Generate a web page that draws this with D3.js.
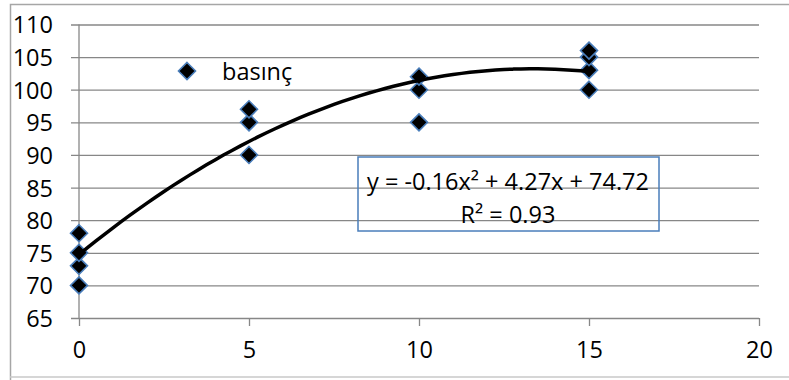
<!DOCTYPE html>
<html>
<head>
<meta charset="utf-8">
<script src="https://cdn.jsdelivr.net/npm/d3@7"></script>
<style>
  body { margin: 0; background: #fff; }
  text { font-family: "Open Sans", sans-serif; fill: #000; }
</style>
</head>
<body>
<div id="chart"></div>
<script>
// measured points (x, basinç)
var xValues = [0, 0, 0, 0, 5, 5, 5, 10, 10, 10, 15, 15, 15, 15];
var yValues = [70, 73, 75, 78, 90, 95, 97, 95, 100, 102, 100, 103, 105, 106];
var xTicks = [0, 5, 10, 15, 20];
var yTicks = [65, 70, 75, 80, 85, 90, 95, 100, 105, 110];
var seriesName = "basınç";
// polynomial trendline, order 2: a*x^2 + b*x + c
var trendCoef = [-0.16, 4.27, 74.72];
var trendLabel = "y = -0.16x² + 4.27x + 74.72";
var r2Label = "R² = 0.93";

function init() {
    var w = 789;
    var h = 380;
    var left = 79, right = 759, top = 24.5, bottom = 318;
    var fs = "23.5px";

    var svg = d3.select("#chart")
        .append("svg")
        .attr("width", w)
        .attr("height", h);

    // outer chart border
    svg.append("path")
        .attr("d", "M10.5,380 V4.5 H789")
        .attr("fill", "none")
        .attr("stroke", "#a6a6a6")
        .attr("stroke-width", 1.5);
    svg.append("line")
        .attr("x1", 10).attr("x2", 789)
        .attr("y1", 377).attr("y2", 377)
        .attr("stroke", "#c8c8c8")
        .attr("stroke-width", 1.5);

    var x = d3.scaleLinear().domain([0, 20]).range([left, right]);
    var y = d3.scaleLinear().domain([65, 110]).range([bottom, top]);

    var data = xValues.map(function (d, i) { return [d, yValues[i]]; });

    // gridlines + y axis
    var yAxis = d3.axisLeft(y)
        .tickValues(yTicks)
        .tickSize(-(right - left) - 8)
        .tickPadding(18)
        .tickSizeOuter(0);
    var gy = svg.append("g")
        .attr("transform", "translate(" + (left - 8) + ",0)")
        .call(yAxis);
    gy.select(".domain").remove();
    gy.selectAll(".tick line")
        .attr("stroke", "#878787")
        .attr("stroke-width", 1.3);
    gy.selectAll(".tick text")
        .attr("x", -(left - 8 - 53))
        .attr("dy", "0.36em")
        .style("font-size", fs)
        .style("font-family", "'Open Sans', sans-serif");

    // vertical axis line
    svg.append("line")
        .attr("x1", left).attr("x2", left)
        .attr("y1", top).attr("y2", bottom)
        .attr("stroke", "#878787")
        .attr("stroke-width", 1.3);

    // x axis
    var xAxis = d3.axisBottom(x)
        .tickValues(xTicks)
        .tickSize(8)
        .tickPadding(15)
        .tickSizeOuter(0);
    var gx = svg.append("g")
        .attr("transform", "translate(0," + bottom + ")")
        .call(xAxis);
    gx.select(".domain").remove();
    gx.selectAll(".tick line")
        .attr("stroke", "#878787")
        .attr("stroke-width", 1.3);
    gx.selectAll(".tick text")
        .style("font-size", fs)
        .style("font-family", "'Open Sans', sans-serif");

    var diamond = "M0,-8.5 L8.5,0 L0,8.5 L-8.5,0Z";

    // points
    svg.selectAll("path.pt")
        .data(data)
        .enter()
        .append("path")
        .attr("class", "pt")
        .attr("d", diamond)
        .attr("transform", function (d) {
            return "translate(" + x(d[0]) + "," + y(d[1]) + ")";
        })
        .attr("fill", "#000")
        .attr("stroke", "#4a7ebb")
        .attr("stroke-width", 1.6);

    // trendline over the measured range
    var xs = d3.range(0, 15.01, 0.25);
    var line = d3.line()
        .x(function (d) { return x(d); })
        .y(function (d) { return y(trendCoef[0] * d * d + trendCoef[1] * d + trendCoef[2]); })
        .curve(d3.curveMonotoneX);
    svg.append("path")
        .datum(xs)
        .attr("d", line)
        .attr("fill", "none")
        .attr("stroke", "#000")
        .attr("stroke-width", 3.5);

    // legend
    svg.append("path")
        .attr("d", diamond)
        .attr("transform", "translate(187,71)")
        .attr("fill", "#000")
        .attr("stroke", "#4a7ebb")
        .attr("stroke-width", 1.6);
    svg.append("text")
        .attr("x", 222)
        .attr("y", 80)
        .style("font-size", fs)
        .text(seriesName);

    // trendline label box
    svg.append("rect")
        .attr("x", 358).attr("y", 157)
        .attr("width", 301).attr("height", 74)
        .attr("fill", "none")
        .attr("stroke", "#4a7ebb")
        .attr("stroke-width", 1.5);
    svg.append("text")
        .attr("x", 508).attr("y", 190)
        .attr("text-anchor", "middle")
        .style("font-size", fs)
        .text(trendLabel);
    svg.append("text")
        .attr("x", 508).attr("y", 223)
        .attr("text-anchor", "middle")
        .style("font-size", fs)
        .text(r2Label);
}

window.onload = init;
</script>
</body>
</html>
